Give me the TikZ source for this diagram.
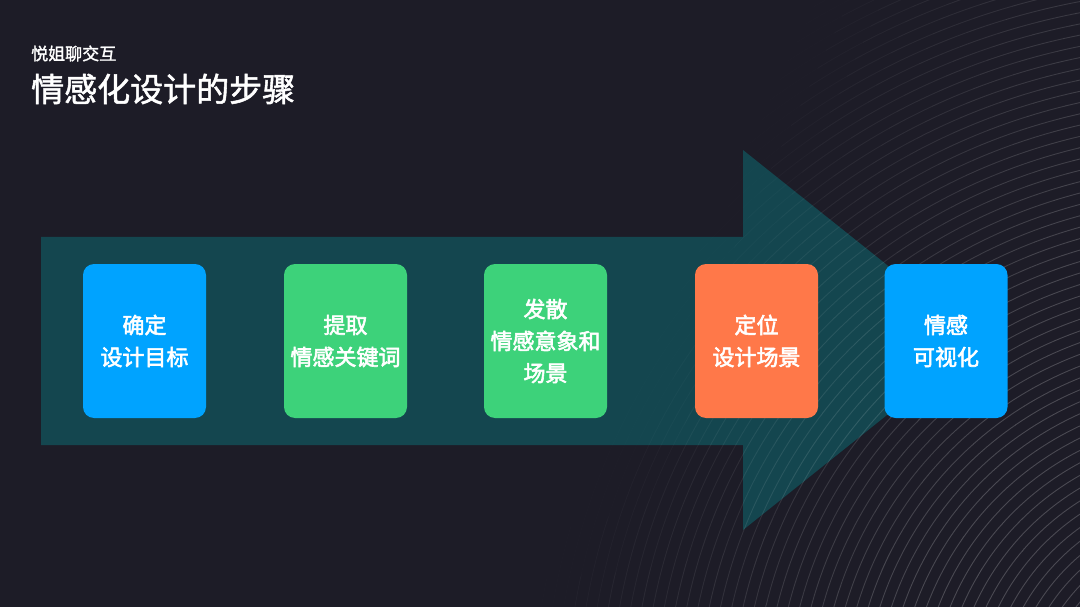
\documentclass[tikz,border=0pt]{standalone}
\usepackage{fontspec}
\setmainfont{Noto Sans CJK SC}
\newfontfamily\cjkmed[FakeBold=1.6]{Noto Sans CJK SC}
\newfontfamily\cjksemi[FakeBold=2.6]{Noto Sans CJK SC}
\definecolor{bgc}{HTML}{1D1C27}
\definecolor{arrowc}{HTML}{14464F}
\definecolor{boxblue}{HTML}{00A3FF}
\definecolor{boxgreen}{HTML}{3DD27A}
\definecolor{boxorange}{HTML}{FF7849}
\tikzset{
  stepbox/.style={rounded corners=11pt, minimum width=123pt, minimum height=154pt,
    inner sep=0pt, text=white, align=center,
    font=\fontsize{22}{32}\selectfont\cjksemi},
  arcline/.style={white, line width=0.9pt}
}
\begin{document}
\begin{tikzpicture}[x=1pt,y=-1pt]
\fill[bgc] (0,0) rectangle (1080,607);
\useasboundingbox (0,0) rectangle (1080,607);
% big arrow
\fill[arrowc] (41,237) -- (743,237) -- (743,150) -- (981,340) -- (743,530) -- (743,445) -- (41,445) -- cycle;
% concentric arcs with a diagonal fade
\foreach \i in {0,...,14} {
  \pgfmathsetmacro\ua{740+\i*30}
  \pgfmathsetmacro\ub{ifthenelse(\i==14,2600,\ua+30)}
  \pgfmathsetmacro\op{0.2*min(1,(\i+0.5)/12)}
  \begin{scope}
    \clip ({0.906*\ua+677},{0.423*\ua-1450}) -- ({0.906*\ub+677},{0.423*\ub-1450})
       -- ({0.906*\ub-677},{0.423*\ub+1450}) -- ({0.906*\ua-677},{0.423*\ua+1450}) -- cycle;
    \draw[arcline, opacity=\op] \foreach \r in {22,33,...,836} { (1215,715) circle[radius=\r pt] };
  \end{scope}
}
% titles
\node[anchor=west, inner sep=0pt, text=white, font=\fontsize{17}{20}\selectfont\cjkmed] (sub) at (31,53.5) {悦姐聊交互};
\node[anchor=west, inner sep=0pt, text=white, font=\fontsize{33}{38}\selectfont\cjkmed] (title) at (31,89) {情感化设计的步骤};
% step boxes
\node[stepbox, fill=boxblue] (b1) at (144.5,341) {确定\\设计目标};
\node[stepbox, fill=boxgreen] (b2) at (345.5,341) {提取\\情感关键词};
\node[stepbox, fill=boxgreen] (b3) at (545.5,341) {发散\\情感意象和\\场景};
\node[stepbox, fill=boxorange] (b4) at (756.5,341) {定位\\设计场景};
\node[stepbox, fill=boxblue] (b5) at (946,341) {情感\\可视化};
\end{tikzpicture}
\end{document}
